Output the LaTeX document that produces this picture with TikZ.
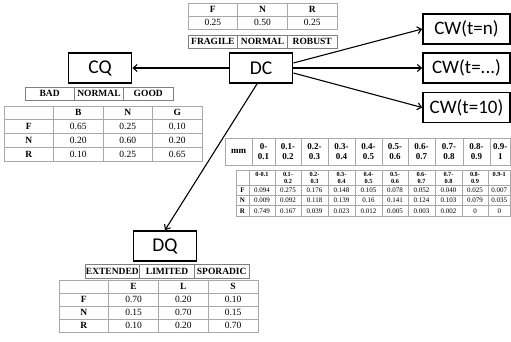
\documentclass[tikz,border=0pt]{standalone}
\usepackage{fontspec}
\setmainfont{Liberation Serif}
\newfontfamily\boxfont{Carlito}
\usetikzlibrary{arrows.meta,calc}
\definecolor{tabline}{HTML}{A8A8A8}
\definecolor{tabdark}{HTML}{7F7F7F}
\newcommand\tabrow[7]{%
  \foreach \cc [count=\i] in {#7} {
    \node[#6, minimum width=#4pt, minimum height=#5pt] (#1-\i) at ({#2+(\i-0.5)*#4}, {#3+#5/2}) {\cc};
  }%
}
\begin{document}
\begin{tikzpicture}[x=1pt,y=-1pt,
  bigbox/.style={draw=black, line width=1.8pt, minimum width=63pt, minimum height=30pt, inner sep=0pt, font=\boxfont\fontsize{19.5}{22}\selectfont},
  cwbox/.style={bigbox, minimum width=87pt, font=\boxfont\fontsize{19}{22}\selectfont},
  arr/.style={-{Straight Barb[length=4pt,width=7pt]}, line width=1.1pt},
  cell/.style={draw=tabline, line width=0.7pt, inner sep=0pt, anchor=center, font=\fontsize{9.5}{10}\selectfont},
  hcell/.style={cell, font=\bfseries\fontsize{9.5}{10}\selectfont},
  catcell/.style={hcell, draw=tabdark},
  mmcell/.style={cell, align=center, font=\bfseries\fontsize{9}{10.5}\selectfont},
  phcell/.style={cell, align=center, font=\bfseries\fontsize{6.3}{7}\selectfont},
  pcell/.style={cell, font=\fontsize{7}{7}\selectfont},
  plcell/.style={cell, font=\bfseries\fontsize{7}{7}\selectfont},
]
\useasboundingbox (0,0) rectangle (511,342);
\fill[white] (0,0) rectangle (511,342);

% boxes
\node[bigbox] (CQ) at (100,68) {CQ};
\node[bigbox] (DC) at (261,68) {DC};
\node[bigbox] (DQ) at (165,246) {DQ};
\node[cwbox] (CW1) at (466.5,29) {CW(t=n)};
\node[cwbox] (CW2) at (466.5,68) {CW(t=...)};
\node[cwbox] (CW3) at (466.5,107.5) {CW(t=10)};

% connectors
\draw[arr] (DC.west) -- (CQ.east);
\draw[arr] ($(DC.east)+(0,-5)$) -- (CW1.west);
\draw[arr] (DC.east) -- (CW2.west);
\draw[arr] ($(DC.east)+(0,5)$) -- (CW3.west);
\draw[arr] ($(DC.south)+(-4,0)$) -- (DQ.north);

% DC prior table
\tabrow{dch}{188}{3}{49.7}{13}{hcell}{F,N,R}
\tabrow{dcv}{188}{16}{49.7}{13}{cell}{0.25,0.50,0.25}
\tabrow{dcc}{188}{35}{49.7}{13}{catcell}{FRAGILE,NORMAL,ROBUST}

% CQ tables
\tabrow{cqc}{25}{87}{49.3}{13}{catcell}{BAD,NORMAL,GOOD}
\tabrow{cqh}{4}{106}{49.5}{13.75}{hcell}{{},B,N,G}
\tabrow{cqf}{4}{119.75}{49.5}{13.75}{cell}{\textbf{F},0.65,0.25,0.10}
\tabrow{cqn}{4}{133.5}{49.5}{13.75}{cell}{\textbf{N},0.20,0.60,0.20}
\tabrow{cqr}{4}{147.25}{49.5}{13.75}{cell}{\textbf{R},0.10,0.25,0.65}

% DQ tables
\tabrow{dqc}{85}{264}{54.7}{14}{catcell}{EXTENDED,LIMITED,SPORADIC}
\tabrow{dqh}{59}{280}{49.75}{13}{hcell}{{},E,L,S}
\tabrow{dqf}{59}{293}{49.75}{13}{cell}{\textbf{F},0.70,0.20,0.10}
\tabrow{dqn}{59}{306}{49.75}{13}{cell}{\textbf{N},0.15,0.70,0.15}
\tabrow{dqr}{59}{319}{49.75}{13}{cell}{\textbf{R},0.10,0.20,0.70}

% mm table
\foreach \xa/\xb/\cc [count=\i] in {225/252/mm, 252/275/{0-\\0.1}, 275/301/{0.1-\\0.2}, 301/328/{0.2-\\0.3}, 328/355/{0.3-\\0.4}, 355/382/{0.4-\\0.5}, 382/408/{0.5-\\0.6}, 408/435/{0.6-\\0.7}, 435/463/{0.7-\\0.8}, 463/490/{0.8-\\0.9}, 490/510.5/{0.9-\\1}} {
  \pgfmathsetmacro\ww{\xb-\xa}
  \node[mmcell, minimum width=\ww pt, minimum height=27pt] (mm-\i) at ({(\xa+\xb)/2}, 151.5) {\cc};
}

% probability table
\node[cell, minimum width=13pt, minimum height=15pt] (p-h0) at (242.5,177.5) {};
\node[plcell, minimum width=13pt, minimum height=10.3pt] (p-f0) at (242.5,190.15) {F};
\node[plcell, minimum width=13pt, minimum height=10.3pt] (p-n0) at (242.5,200.45) {N};
\node[plcell, minimum width=13pt, minimum height=10.4pt] (p-r0) at (242.5,210.8) {R};
\foreach \xa/\xb/\hh/\vf/\vn/\vr [count=\i] in {
  249/275/{0-0.1\\~}/0.094/0.009/0.749,
  275/301/{0.1-\\0.2}/0.275/0.092/0.167,
  301/328/{0.2-\\0.3}/0.176/0.118/0.039,
  328/355/{0.3-\\0.4}/0.148/0.139/0.023,
  355/382/{0.4-\\0.5}/0.105/0.16/0.012,
  382/408/{0.5-\\0.6}/0.078/0.141/0.005,
  408/435/{0.6-\\0.7}/0.052/0.124/0.003,
  435/462/{0.7-\\0.8}/0.040/0.103/0.002,
  462/488/{0.8-\\0.9}/0.025/0.079/0,
  488/510.5/{0.9-1\\~}/0.007/0.035/0} {
  \pgfmathsetmacro\ww{\xb-\xa}
  \pgfmathsetmacro\xc{(\xa+\xb)/2}
  \node[phcell, minimum width=\ww pt, minimum height=15pt] (p-h\i) at (\xc,177.5) {\hh};
  \node[pcell, minimum width=\ww pt, minimum height=10.3pt] (p-f\i) at (\xc,190.15) {\vf};
  \node[pcell, minimum width=\ww pt, minimum height=10.3pt] (p-n\i) at (\xc,200.45) {\vn};
  \node[pcell, minimum width=\ww pt, minimum height=10.4pt] (p-r\i) at (\xc,210.8) {\vr};
}
\end{tikzpicture}
\end{document}
